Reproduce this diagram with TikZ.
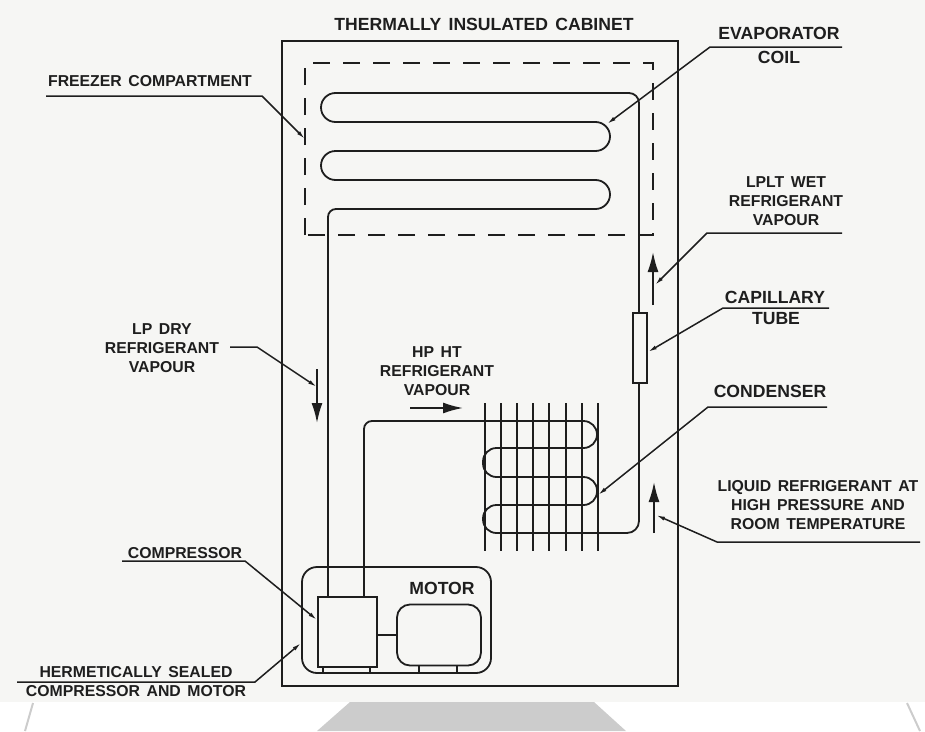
\documentclass[tikz,border=0pt]{standalone}
\usepackage{fontspec}
\usepackage{tikz}
\usetikzlibrary{arrows.meta}
\newfontfamily\labelfont[WordSpace=1.5]{Liberation Sans}
\definecolor{paper}{HTML}{F6F6F4}
\definecolor{ink}{HTML}{1E1E1E}
\definecolor{smudge}{HTML}{CCCCCC}

\begin{document}
\begin{tikzpicture}[x=1pt,y=-1pt,
  lbl/.style={font=\labelfont\bfseries\fontsize{15.8}{19}\selectfont,align=center,inner sep=0pt,text=ink},
  lblbig/.style={lbl,font=\labelfont\bfseries\fontsize{17.6}{19}\selectfont},
  wall/.style={draw=ink,line width=2pt},
  pipe/.style={draw=ink,line width=1.8pt},
  part/.style={draw=ink,line width=1.8pt,inner sep=0pt,fill=none},
  lead/.style={draw=ink,line width=1.5pt,-{Latex[length=9pt,width=4pt]}},
  flow/.style={draw=ink,line width=1.8pt,-{Latex[length=20pt,width=11pt]}}]
\useasboundingbox (0,0) rectangle (925,731);
\fill[paper] (0,0) rectangle (925,702);
\fill[smudge] (350,702) -- (594,702) -- (626,731) -- (317,731) -- cycle;
\draw[smudge,line width=2pt] (33,703) -- (25,731);
\draw[smudge,line width=2pt] (907,703) -- (920,731);
% cabinet and freezer
\node[lblbig] (cabinetlbl) at (484,24) {THERMALLY INSULATED CABINET};
\draw[wall] (282,41) rectangle (678,686);
\draw[wall,dash pattern=on 17pt off 13pt] (305,235) -- (305,63) -- (653,63) -- (653,235) -- cycle;
% compressor and motor
\node[part,rounded corners=15pt,minimum width=189pt,minimum height=106pt] (hermetic) at (396.5,620) {};
\node[part,minimum width=59pt,minimum height=70pt] (compressor) at (347.5,632) {};
\node[part,rounded corners=13pt,minimum width=84pt,minimum height=61pt] (motor) at (439,635) {};
\node[part,minimum width=14pt,minimum height=70pt] (tube) at (640,348) {};
\node[lblbig] (motorlbl) at (442,588) {MOTOR};
\draw[pipe,line width=2.2pt] (compressor.east |- motor.west) -- (motor.west);
\foreach \x in {323,370,419,457}{\draw[pipe,line width=1.4pt] (\x,666) -- (\x,673);}
% evaporator coil
\draw[pipe] (328,0 |- compressor.north) [rounded corners=8pt] -- (328,209) [rounded corners=14.5pt] -- (610,209) -- (610,180)
  -- (321,180) -- (321,151) -- (610,151) -- (610,122) -- (321,122) -- (321,93) [rounded corners=10pt] -- (639,93) -- (639,0 |- tube.north);
% condenser
\draw[pipe] (364,0 |- compressor.north) [rounded corners=8pt] -- (364,421) [rounded corners=13.5pt] -- (597,421) -- (597,448)
  -- (483,448) -- (483,477) -- (597,477) -- (597,505) -- (483,505) -- (483,533) [rounded corners=12pt] -- (639,533) -- (639,0 |- tube.south);
\foreach \x in {485,501,517,533,549,566,582,598}{\draw[pipe,line width=1.5pt] (\x,403) -- (\x,551);}
% flow arrows
\draw[flow] (317,369) -- (317,423);
\draw[flow] (410,408) -- (463,408);
\draw[flow] (653,305) -- (653,252);
\draw[flow] (654,533) -- (654,482);
% labels, with their leaders
\node[lbl] (freezerlbl) at (150,81) {FREEZER COMPARTMENT};
\coordinate (freezerA) at (46,96); \coordinate (freezerB) at (262,96); \coordinate (freezerC) at (305,139);
\draw[lead] (freezerA) -- (freezerB) -- (freezerC);
\node[lblbig] (evaplbl) at (779,33) {EVAPORATOR};
\node[lblbig] (coillbl) at (779,57) {COIL};
\coordinate (evapA) at (842,47); \coordinate (evapB) at (710,47); \coordinate (evapC) at (607,124);
\draw[lead] (evapA) -- (evapB) -- (evapC);
\node[lbl] (lpltlbl) at (786,201) {LPLT WET\\REFRIGERANT\\VAPOUR};
\coordinate (lpltA) at (842,233); \coordinate (lpltB) at (707,233); \coordinate (lpltC) at (655,285);
\draw[lead] (lpltA) -- (lpltB) -- (lpltC);
\node[lblbig] (capillbl) at (775,297) {CAPILLARY};
\node[lblbig] (tubelbl) at (776,319) {TUBE};
\coordinate (capA) at (829,308); \coordinate (capB) at (723,308);
\draw[lead] (capA) -- (capB) -- (tube.east |- 0,352);
\node[lblbig] (condlbl) at (770,391) {CONDENSER};
\coordinate (condA) at (827,407); \coordinate (condB) at (708,407); \coordinate (condC) at (598,495);
\draw[lead] (condA) -- (condB) -- (condC);
\node[lbl] (liquidlbl) at (818,505) {LIQUID REFRIGERANT AT\\HIGH PRESSURE AND\\ROOM TEMPERATURE};
\coordinate (liquidA) at (920,542); \coordinate (liquidB) at (717,542); \coordinate (liquidC) at (656,515);
\draw[lead] (liquidA) -- (liquidB) -- (liquidC);
\node[lbl] (hphtlbl) at (437,371) {HP HT\\REFRIGERANT\\VAPOUR};
\node[lbl] (lpdrylbl) at (162,348) {LP DRY\\REFRIGERANT\\VAPOUR};
\coordinate (lpdryA) at (230,347); \coordinate (lpdryB) at (257,347); \coordinate (lpdryC) at (317,387);
\draw[lead] (lpdryA) -- (lpdryB) -- (lpdryC);
\node[lbl] (complbl) at (185,553) {COMPRESSOR};
\coordinate (compA) at (122,561); \coordinate (compB) at (245,561);
\draw[lead] (compA) -- (compB) -- (compressor.west |- 0,620);
\node[lbl] (sealedlbl) at (136,672) {HERMETICALLY SEALED};
\node[lbl] (sealedlblb) at (136,691) {COMPRESSOR AND MOTOR};
\coordinate (sealA) at (17,682); \coordinate (sealB) at (255,682);
\draw[lead] (sealA) -- (sealB) -- (hermetic.west |- 0,643);
\end{tikzpicture}
\end{document}
